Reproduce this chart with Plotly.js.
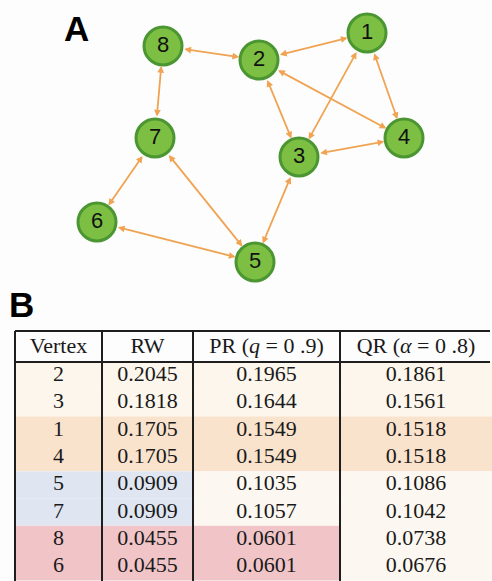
<!DOCTYPE html>
<html>
<head>
<meta charset="utf-8">
<script src="https://cdn.plot.ly/plotly-3.0.1.min.js"></script>
<style>html,body{margin:0;padding:0;background:#fdfdfd;}#chart{width:492px;height:581px;}</style>
</head>
<body>
<div id="chart"></div>
<script>
// ---- Graph data (panel A) ----
const nodeIds = [1, 2, 3, 4, 5, 6, 7, 8];
const nodeX = [367, 259, 299, 404, 255, 97, 155, 163];
const nodeY = [33, 60, 157, 138, 262, 222, 138, 46];
const edgeFrom = [8, 2, 2, 2, 1, 1, 3, 7, 7, 7, 6, 3];
const edgeTo   = [2, 1, 3, 4, 3, 4, 4, 8, 6, 5, 5, 5];

// ---- Table data (panel B) ----
const columns = ['Vertex', 'RW', 'PR (<i>q</i> = 0 .9)', 'QR (<i>α</i> = 0 .8)'];
const vertex = ['2', '3', '1', '4', '5', '7', '8', '6'];
const rw = ['0.2045', '0.1818', '0.1705', '0.1705', '0.0909', '0.0909', '0.0455', '0.0455'];
const pr = ['0.1965', '0.1644', '0.1549', '0.1549', '0.1035', '0.1057', '0.0601', '0.0601'];
const qr = ['0.1861', '0.1561', '0.1518', '0.1518', '0.1086', '0.1042', '0.0738', '0.0676'];

// ---- Styles / layout constants ----
const W = 492, H = 581;
const CREAM = '#fcf6ec', PEACH = '#f9e3cd', BLUE = '#dfe6f1', PINK = '#f1c5c8', OFF = '#fcf8f1';
const cellFill = [
  [CREAM, CREAM, PEACH, PEACH, BLUE, BLUE, PINK, PINK],
  [CREAM, CREAM, PEACH, PEACH, BLUE, BLUE, PINK, PINK],
  [CREAM, CREAM, PEACH, PEACH, OFF, OFF, PINK, PINK],
  [CREAM, CREAM, PEACH, PEACH, OFF, OFF, OFF, OFF]
];
const colEdges = [15, 102, 193, 340, 492];
const tableTop = 331, headBottom = 362, rowH = 27.3;
const graphBottom = 280, tableRegionTop = 285;
const serif = 'Liberation Serif, Times New Roman, serif';

const traces = [];
const shapes = [];
const annotations = [];

// edges as arrows
function idx(id) { return nodeIds.indexOf(id); }
for (let k = 0; k < edgeFrom.length; k++) {
  const a = idx(edgeFrom[k]), b = idx(edgeTo[k]);
  annotations.push({
    xref: 'x', yref: 'y', axref: 'x', ayref: 'y',
    x: nodeX[b], y: nodeY[b], ax: nodeX[a], ay: nodeY[a],
    text: '', showarrow: true, arrowside: 'end+start',
    arrowhead: 2, startarrowhead: 2, arrowsize: 0.75, startarrowsize: 0.75,
    arrowwidth: 1.8, arrowcolor: '#f0a352',
    standoff: 20, startstandoff: 20
  });
}

// nodes
traces.push({
  type: 'scatter', mode: 'markers+text', xaxis: 'x', yaxis: 'y',
  x: nodeX, y: nodeY, text: nodeIds.map(String),
  textposition: 'middle center',
  textfont: {family: 'Liberation Sans, Arial, sans-serif', size: 22, color: '#111'},
  marker: {size: 38, color: '#7dbf42', line: {color: '#4b9632', width: 3}},
  hoverinfo: 'skip', cliponaxis: false
});

// table cells
const colData = [vertex, rw, pr, qr];
for (let c = 0; c < 4; c++) {
  for (let r = 0; r < colData[c].length; r++) {
    shapes.push({
      type: 'rect', xref: 'x2', yref: 'y2', layer: 'below',
      x0: colEdges[c], x1: colEdges[c + 1],
      y0: headBottom + rowH * r, y1: headBottom + rowH * (r + 1),
      fillcolor: cellFill[c][r], line: {width: 0}
    });
  }
  const cx = (colEdges[c] + colEdges[c + 1]) / 2;
  traces.push({
    type: 'scatter', mode: 'text', xaxis: 'x2', yaxis: 'y2',
    x: colData[c].map(() => cx),
    y: colData[c].map((v, r) => headBottom + rowH * (r + 0.5)),
    text: colData[c], textposition: 'middle center',
    textfont: {family: serif, size: 22, color: '#1a1a1a'},
    hoverinfo: 'skip', cliponaxis: false
  });
}
// header
traces.push({
  type: 'scatter', mode: 'text', xaxis: 'x2', yaxis: 'y2',
  x: columns.map((t, c) => (colEdges[c] + colEdges[c + 1]) / 2),
  y: columns.map(() => (tableTop + headBottom) / 2 + 1),
  text: columns, textposition: 'middle center',
  textfont: {family: serif, size: 22, color: '#1a1a1a'},
  hoverinfo: 'skip', cliponaxis: false
});
// table lines
const lineStyle = {color: '#1e1e1e', width: 2};
shapes.push({type: 'line', xref: 'x2', yref: 'y2', x0: colEdges[0], x1: 490, y0: tableTop, y1: tableTop, line: lineStyle});
shapes.push({type: 'line', xref: 'x2', yref: 'y2', x0: colEdges[0], x1: 490, y0: headBottom, y1: headBottom, line: lineStyle});
for (let c = 0; c < 4; c++) {
  shapes.push({type: 'line', xref: 'x2', yref: 'y2', x0: colEdges[c], x1: colEdges[c], y0: tableTop, y1: H, line: lineStyle});
}

// panel labels
annotations.push({xref: 'x', yref: 'y', x: 76, y: 28, text: '<b>A</b>', showarrow: false,
  font: {family: 'Liberation Sans, Arial, sans-serif', size: 35, color: '#000'}});
annotations.push({xref: 'x2', yref: 'y2', x: 21, y: 304, text: '<b>B</b>', showarrow: false,
  font: {family: 'Liberation Sans, Arial, sans-serif', size: 35, color: '#000'}});

const hidden = {visible: false, fixedrange: true};
const layout = {
  width: W, height: H,
  margin: {l: 0, r: 0, t: 0, b: 0},
  paper_bgcolor: '#fdfdfd', plot_bgcolor: 'rgba(0,0,0,0)',
  showlegend: false,
  xaxis: Object.assign({range: [0, W], domain: [0, 1]}, hidden),
  yaxis: Object.assign({range: [graphBottom, 0], domain: [1 - graphBottom / H, 1]}, hidden),
  xaxis2: Object.assign({range: [0, W], domain: [0, 1], anchor: 'y2'}, hidden),
  yaxis2: Object.assign({range: [H, tableRegionTop], domain: [0, (H - tableRegionTop) / H], anchor: 'x2'}, hidden),
  shapes: shapes,
  annotations: annotations
};
Plotly.newPlot('chart', traces, layout, {displayModeBar: false, staticPlot: true});
</script>
</body>
</html>
